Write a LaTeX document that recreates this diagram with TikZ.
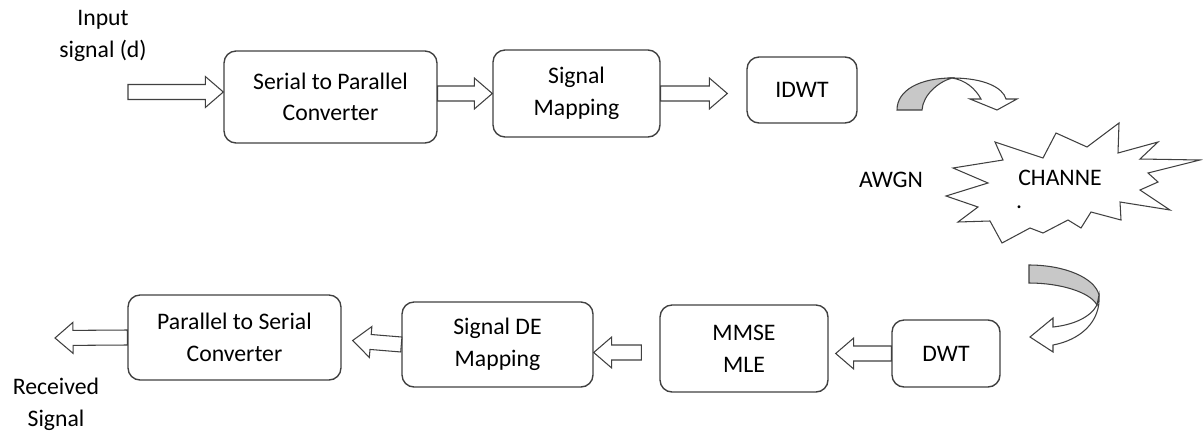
\documentclass[tikz,border=0pt]{standalone}
\usepackage{fontspec}
\setmainfont{Carlito}
\usepackage{tikz}
\usetikzlibrary{calc,positioning}

\definecolor{edgegray}{HTML}{404040}
\definecolor{bandgray}{HTML}{C8C8C8}

% block arrow from #1 to #2 (tip at #2)
\newcommand{\blockarr}[2]{%
  \coordinate (ba-s) at #1;
  \coordinate (ba-t) at #2;
  \coordinate (ba-h) at ($(ba-t)!0.36cm!(ba-s)$);
  \draw[blockarrow] ($(ba-s)!0.15cm!90:(ba-t)$) -- ($(ba-h)!0.15cm!-90:(ba-s)$)
    -- ($(ba-h)!0.31cm!-90:(ba-s)$) -- (ba-t) -- ($(ba-h)!0.31cm!90:(ba-s)$)
    -- ($(ba-h)!0.15cm!90:(ba-s)$) -- ($(ba-s)!0.15cm!-90:(ba-t)$) -- cycle;
}

\begin{document}
\begin{tikzpicture}[x=0.02cm,y=-0.02cm]
\tikzstyle{block}=[draw=edgegray, line width=0.8pt, rounded corners=0.24cm, align=center, inner sep=2pt]
\tikzstyle{blockarrow}=[draw=edgegray, line width=0.6pt, fill=white]
\tikzstyle{band}=[draw=edgegray, line width=0.6pt]
\tikzstyle{every node}=[font=\fontsize{13.5}{18}\selectfont]

\useasboundingbox (0,0) rectangle (1203,436);

% transmitter
\node[block, minimum width=4.26cm, minimum height=1.84cm] (sp) at (330.5,97) {Serial to Parallel\\Converter};
\node[block, minimum width=3.34cm, minimum height=1.74cm] (sm) at (576.5,93.5) {Signal\\Mapping};
\node[block, minimum width=2.2cm, minimum height=1.32cm] (idwt) at (802,90) {IDWT};

% receiver
\node[block, minimum width=4.26cm, minimum height=1.7cm] (ps) at (234.5,337.5) {Parallel to Serial\\Converter};
\node[block, minimum width=3.82cm, minimum height=1.7cm] (sde) at (497.5,344.5) {Signal DE\\Mapping};
\node[block, minimum width=3.36cm, minimum height=1.74cm] (mmse) at (744,348.5) {MMSE\\MLE};
\node[block, minimum width=2.16cm, minimum height=1.34cm] (dwt) at (946,353.5) {DWT};

\node[align=center] (inp) at (103,36) {Input\\signal (d)};
\node[align=center] (rec) at (56,404) {Received\\Signal};
\coordinate (in) at (128,92);
\coordinate (out) at (55,338);

\blockarr{(in)}{(in -| sp.west)}
\blockarr{(sm.west -| sp.east)}{(sm.west)}
\blockarr{(sm.east)}{($(sm.east -| idwt.west)+(-19,0)$)}
\blockarr{(dwt.west)}{($(dwt.west -| mmse.east)+(7,0)$)}
\blockarr{($(mmse.west)+(-18,4)$)}{($(mmse.west -| sde.east)+(0,4)$)}
\blockarr{(sde.west)}{($(sde.west -| ps.east)+(11,-4)$)}
\blockarr{(ps.west)}{(out)}

% channel
\draw[band, fill=white] (995,142) -- (1043,158) -- (1056,133) -- (1087,147) -- (1119,123)
  -- (1118,153) -- (1158,142) -- (1140,159) -- (1200,160) -- (1148,173) -- (1158,182)
  -- (1140,190) -- (1170,210) -- (1120,202) -- (1121,220) -- (1091,212) -- (1081,228)
  -- (1068,220) -- (1043,233) -- (1030,228) -- (1002,243) -- (990,221) -- (958,222)
  -- (978,207) -- (946,196) -- (988,183) -- (953,168) -- (1003,160) -- cycle;
\node[inner sep=0pt] (chan) at (1060,178) {CHANNE};
\node[inner sep=0pt] (chandot) at (1019,207) {.};
\node (awgn) at (891,180) {AWGN};

% curved arrow IDWT -> channel
\draw[band, fill=white] (952,78) .. controls (985,78) and (1003,88) .. (1006,99) -- (1017,99)
  -- (997,110) -- (970,99) -- (981,99) .. controls (975,88) and (965,80) .. (952,78) -- cycle;
\draw[band, fill=bandgray] (897,110) .. controls (897,90) and (920,78) .. (952,78)
  .. controls (938,82) and (923,95) .. (922,110) -- cycle;

% curved arrow channel -> DWT
\draw[band, fill=white] (1099,295) .. controls (1101,322) and (1080,340) .. (1053,345) -- (1053,352)
  -- (1030,337) -- (1053,318) -- (1053,327) .. controls (1072,325) and (1090,318) .. (1097,305) -- cycle;
\draw[band, fill=bandgray] (1029,265) .. controls (1065,265) and (1095,278) .. (1099,295)
  -- (1097,305) .. controls (1090,292) and (1060,283) .. (1029,283) -- cycle;
\end{tikzpicture}
\end{document}
